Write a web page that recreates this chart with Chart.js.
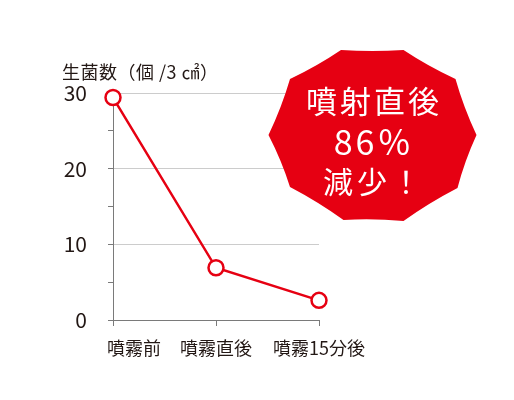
<!DOCTYPE html>
<html><head><meta charset="utf-8">
<script src="https://cdn.jsdelivr.net/npm/chart.js@4.4.1/dist/chart.umd.min.js"></script>
<style>html,body{margin:0;padding:0;background:#fff;}#wrap{width:514px;height:400px;}</style>
</head><body><div id="wrap"><canvas id="c" width="514" height="400"></canvas></div>
<script>
const categories = ['噴霧前', '噴霧直後', '噴霧15分後'];
const bacteriaCounts = [29.4, 6.9, 2.6];
const yMajorTicks = [0, 10, 20, 30];
const yAxisTitle = '生菌数（個 /3 ㎠）';
const badgeLines = ['噴射直後', '86％', '減少！'];

const FONT = '"Noto Sans CJK JP", "Noto Sans", sans-serif';
const RED = '#e60012';

const shiftFirstLabel = {
  id: 'shiftFirstLabel',
  beforeDraw(chart) {
    const sx = chart.scales.x;
    const items = sx.getLabelItems(chart.chartArea);
    if (items && items[0] && !items[0]._shifted) {
      items[0].options.translation[0] += 21;
      items[0]._shifted = true;
    }
  }
};

const decor = {
  id: 'decor',
  afterDraw(chart) {
    const ctx = chart.ctx;
    ctx.save();
    // axis title
    ctx.font = '18px ' + FONT;
    ctx.letterSpacing = '0.5px';
    ctx.fillStyle = '#231815';
    ctx.textBaseline = 'middle';
    ctx.textAlign = 'left';
    ctx.fillText(yAxisTitle, 62, 72.5);
    // badge
    const cx = 372.5, cy = 135;
    const pts = [[-31.5,-85],[31,-85],[83,-56],[104,0],[85,53],[31,86],[-29,85],[-82.5,52],[-104,0],[-82.5,-56]];
    ctx.beginPath();
    ctx.moveTo(cx + pts[0][0], cy + pts[0][1]);
    for (let i = 0; i < pts.length; i++) {
      const p = pts[i], q = pts[(i + 1) % pts.length];
      const mx = (p[0] + q[0]) / 2, my = (p[1] + q[1]) / 2;
      const k = 0.025;
      ctx.quadraticCurveTo(cx + mx * (1 - k), cy + my * (1 - k), cx + q[0], cy + q[1]);
    }
    ctx.closePath();
    ctx.fillStyle = RED;
    ctx.fill();
    ctx.fillStyle = '#ffffff';
    ctx.textAlign = 'center';
    const specs = [[31, 100.8, '3px'], [34, 142, '3px'], [30, 181.5, '4px']];
    badgeLines.forEach((t, i) => {
      const [size, y, ls] = specs[i];
      ctx.font = size + 'px ' + FONT;
      ctx.letterSpacing = ls;
      ctx.fillText(t, 374, y);
    });
    ctx.restore();
  }
};

new Chart(document.getElementById('c'), {
  type: 'line',
  data: {
    labels: categories,
    datasets: [{
      data: bacteriaCounts,
      borderColor: RED,
      borderWidth: 2.5,
      pointRadius: 7.5,
      pointBorderWidth: 2.5,
      pointBackgroundColor: '#ffffff',
      pointBorderColor: RED,
      tension: 0,
      clip: false
    }]
  },
  options: {
    responsive: false,
    animation: false,
    devicePixelRatio: 1,
    layout: { padding: { top: 93, right: 195, bottom: 20, left: 0 } },
    plugins: { legend: { display: false }, tooltip: { enabled: false } },
    scales: {
      x: {
        offset: false,
        afterFit(s) { s.height = 60; },
        border: { color: '#7a7a7a', width: 1 },
        grid: { drawOnChartArea: false, tickColor: '#7a7a7a', tickLength: 6 },
        ticks: { padding: 11, color: '#231815', maxRotation: 0, font: { family: FONT, size: 18 } }
      },
      y: {
        min: 0, max: 30,
        afterFit(s) { s.width = 113; },
        border: { color: '#7a7a7a', width: 1 },
        grid: {
          color: c => (c.tick && c.tick.value % 10 === 0 && c.tick.value > 0) ? '#cccccc' : 'rgba(0,0,0,0)',
          tickColor: '#7a7a7a',
          tickLength: 5,
          lineWidth: 1
        },
        ticks: {
          stepSize: 5,
          padding: 21,
          color: '#231815',
          font: { family: FONT, size: 21 },
          callback: v => yMajorTicks.includes(v) ? String(v) : ''
        }
      }
    }
  },
  plugins: [shiftFirstLabel, decor]
});
</script></body></html>
